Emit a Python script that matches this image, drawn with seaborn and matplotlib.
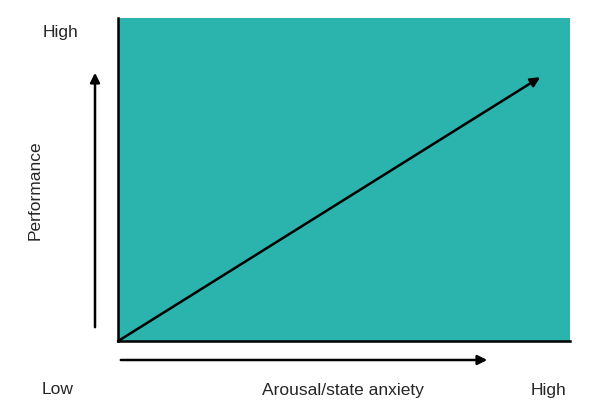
import matplotlib
matplotlib.use("Agg")
import matplotlib.pyplot as plt
import seaborn as sns
import pandas as pd

arousal = [0.0, 0.934]
performance = [0.0, 0.817]
axis_labels = ["Arousal/state anxiety", "Performance"]
level_labels = ["Low", "High"]

sns.set_style("white")
plt.rcParams['font.family'] = ['Liberation Sans', 'DejaVu Sans']

fig = plt.figure(figsize=(5.9, 4.12), dpi=100)
ax = fig.add_axes([0.2, 0.172, 0.766, 0.784])
ax.set_facecolor("#2bb3ad")
df = pd.DataFrame({"x": arousal, "y": performance})
sns.lineplot(data=df, x="x", y="y", ax=ax, color="black", lw=0)
ax.annotate("", xy=(arousal[1], performance[1]), xytext=(arousal[0], performance[0]),
            arrowprops=dict(arrowstyle="-|>", color="black", lw=1.8, mutation_scale=14,
                            shrinkA=0, shrinkB=0))
ax.set_xlim(0, 1); ax.set_ylim(0, 1)
ax.set_xticks([]); ax.set_yticks([])
ax.set_xlabel(""); ax.set_ylabel("")
for s in ["top", "right"]:
    ax.spines[s].set_visible(False)
for s in ["left", "bottom"]:
    ax.spines[s].set_color("black"); ax.spines[s].set_linewidth(1.8)

# side arrows in figure coords
fig.add_artist(matplotlib.patches.FancyArrowPatch((95/590, 1-330/412), (95/590, 1-70/412),
               transform=fig.transFigure, arrowstyle="-|>", mutation_scale=14, lw=1.8, color="black"))
fig.add_artist(matplotlib.patches.FancyArrowPatch((118/590, 1-360/412), (490/590, 1-360/412),
               transform=fig.transFigure, arrowstyle="-|>", mutation_scale=14, lw=1.8, color="black"))

fs = 12.5
fig.text(60/590, 1-32/412, level_labels[1], ha="center", va="center", fontsize=fs)
fig.text(58/590, 1-390/412, level_labels[0], ha="center", va="center", fontsize=fs)
fig.text(548/590, 1-390/412, level_labels[1], ha="center", va="center", fontsize=fs)
fig.text(343/590, 1-390/412, axis_labels[0], ha="center", va="center", fontsize=fs)
fig.text(35/590, 1-190/412, axis_labels[1], ha="center", va="center", fontsize=fs, rotation=90)

fig.savefig("out.png", dpi=100, facecolor="white")
